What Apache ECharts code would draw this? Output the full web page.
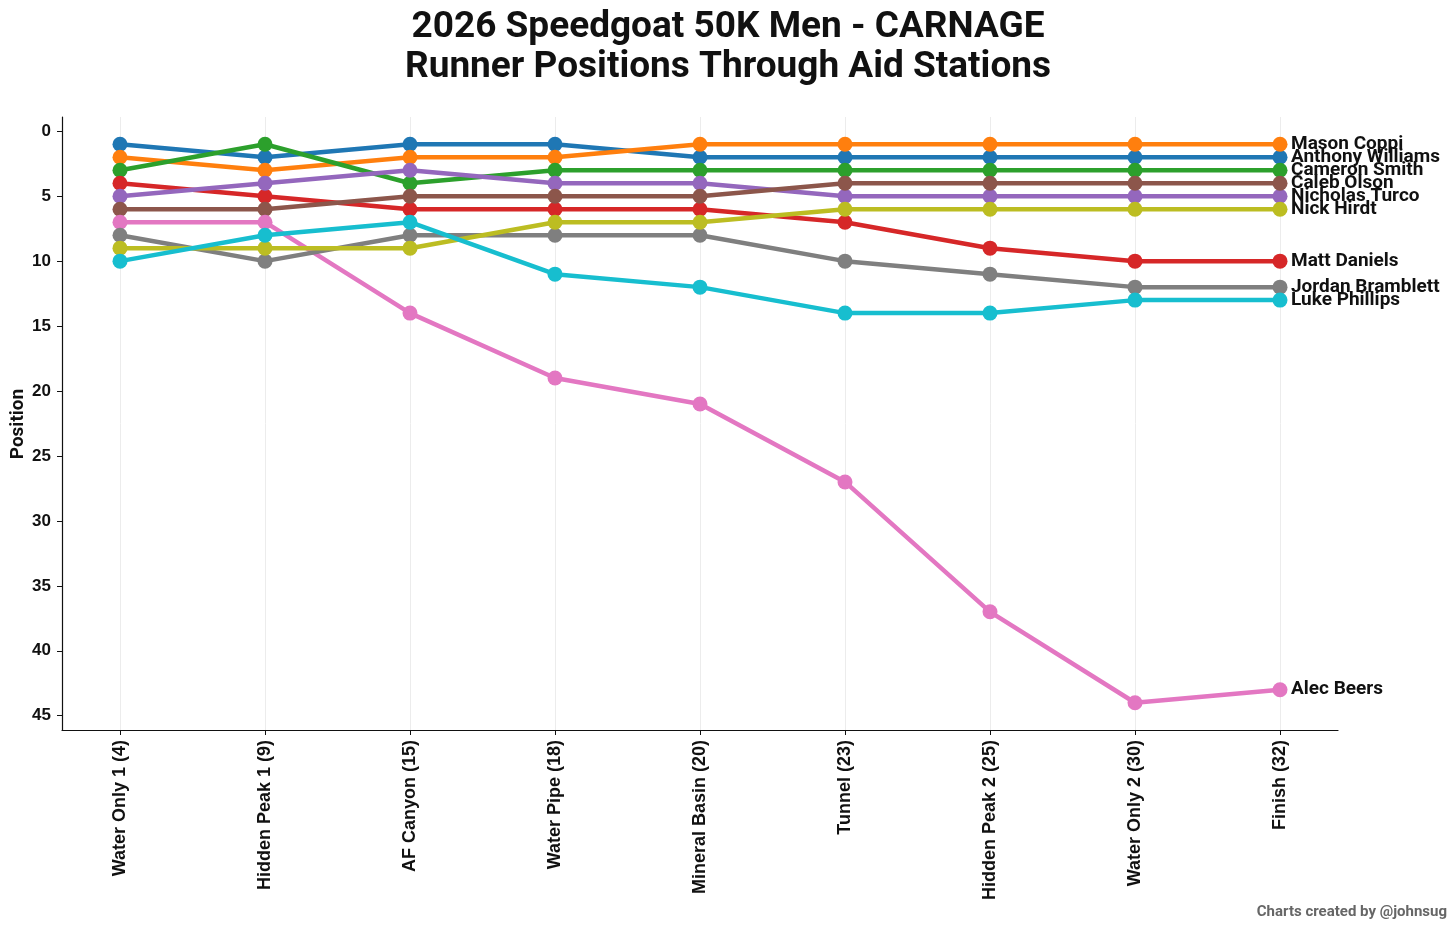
<!DOCTYPE html>
<html>
<head>
<meta charset="utf-8">
<script src="https://cdn.jsdelivr.net/npm/echarts@6/dist/echarts.min.js"></script>
<style>
  html, body { margin: 0; padding: 0; background: #fff; }
  #chart { width: 1456px; height: 930px; }
</style>
</head>
<body>
<div id="chart"></div>
<script>
// aid stations (mile marker in brackets)
const stations = ['Water Only 1 (4)', 'Hidden Peak 1 (9)', 'AF Canyon (15)', 'Water Pipe (18)',
  'Mineral Basin (20)', 'Tunnel (23)', 'Hidden Peak 2 (25)', 'Water Only 2 (30)', 'Finish (32)'];

const runners = ['Anthony Williams', 'Mason Coppi', 'Cameron Smith', 'Matt Daniels', 'Nicholas Turco',
  'Caleb Olson', 'Alec Beers', 'Jordan Bramblett', 'Nick Hirdt', 'Luke Phillips'];

const colors = ['#1f77b4', '#ff7f0e', '#2ca02c', '#d62728', '#9467bd',
  '#8c564b', '#e377c2', '#7f7f7f', '#bcbd22', '#17becf'];

// position at each station, one row per runner
const williams  = [1, 2, 1, 1, 2, 2, 2, 2, 2];
const coppi     = [2, 3, 2, 2, 1, 1, 1, 1, 1];
const smith     = [3, 1, 4, 3, 3, 3, 3, 3, 3];
const daniels   = [4, 5, 6, 6, 6, 7, 9, 10, 10];
const turco     = [5, 4, 3, 4, 4, 5, 5, 5, 5];
const olson     = [6, 6, 5, 5, 5, 4, 4, 4, 4];
const beers     = [7, 7, 14, 19, 21, 27, 37, 44, 43];
const bramblett = [8, 10, 8, 8, 8, 10, 11, 12, 12];
const hirdt     = [9, 9, 9, 7, 7, 6, 6, 6, 6];
const phillips  = [10, 8, 7, 11, 12, 14, 14, 13, 13];

const positions = [williams, coppi, smith, daniels, turco, olson, beers, bramblett, hirdt, phillips];

const yTicks = [0, 5, 10, 15, 20, 25, 30, 35, 40, 45];
const xTicks = stations.map((s, i) => i);

const titleFont = 'Roboto, "Noto Sans", sans-serif';
const plain = '"Liberation Sans", Arial, sans-serif';

let chart = echarts.init(document.getElementById('chart'));

let series = runners.map((name, k) => ({
  name: name,
  type: 'line',
  data: positions[k].map((v, i) => [i, v]),
  symbol: 'circle',
  symbolSize: 15,
  lineStyle: { width: 4.5, color: colors[k] },
  itemStyle: { color: colors[k] },
  emphasis: { disabled: true },
  animation: false,
  z: 2 + k,
  endLabel: {
    show: true,
    formatter: name,
    distance: 11,
    color: '#111',
    fontFamily: titleFont,
    fontWeight: 'bold',
    fontSize: 19
  }
}));

chart.setOption({
  backgroundColor: '#fff',
  title: {
    text: '2026 Speedgoat 50K Men - CARNAGE\nRunner Positions Through Aid Stations',
    left: 'center',
    top: 3,
    textStyle: {
      fontFamily: titleFont,
      fontWeight: 'bold',
      fontSize: 37,
      lineHeight: 40,
      color: '#111'
    }
  },
  graphic: [{
    type: 'text',
    right: 9,
    top: 905,
    style: {
      text: 'Charts created by @johnsug',
      fill: '#666',
      font: 'bold 15px ' + titleFont
    }
  }, {
    // y axis title, placed like matplotlib's ylabel
    type: 'text',
    x: 18,
    y: 424,
    rotation: Math.PI / 2,
    style: {
      text: 'Position',
      fill: '#111',
      align: 'center',
      verticalAlign: 'middle',
      font: 'bold 19px ' + titleFont
    }
  }],
  grid: { left: 62, right: 118, top: 117, bottom: 200, outerBoundsMode: 'none', containLabel: false },
  xAxis: {
    type: 'value',
    min: -0.4,
    max: 8.4,
    axisLine: { show: true, onZero: false, lineStyle: { color: '#111', width: 1.2 } },
    axisTick: { show: true, customValues: xTicks, length: 5, lineStyle: { color: '#111' } },
    axisLabel: {
      customValues: xTicks,
      formatter: v => stations[Math.round(v)] || '',
      rotate: 90,
      margin: 10,
      color: '#111',
      fontFamily: plain,
      fontWeight: 'bold',
      fontSize: 18
    },
    splitLine: { show: true, lineStyle: { color: '#ececec', width: 1 } }
  },
  yAxis: {
    type: 'value',
    inverse: true,
    min: -1.1,
    max: 46.1,
    axisLine: { show: true, onZero: false, lineStyle: { color: '#111', width: 1.2 } },
    axisTick: { show: true, customValues: yTicks, length: 5, lineStyle: { color: '#111' } },
    axisLabel: {
      customValues: yTicks,
      margin: 11,
      color: '#111',
      fontFamily: plain,
      fontWeight: 'bold',
      fontSize: 17
    },
    splitLine: { show: false }
  },
  series: series
});
</script>
</body>
</html>
